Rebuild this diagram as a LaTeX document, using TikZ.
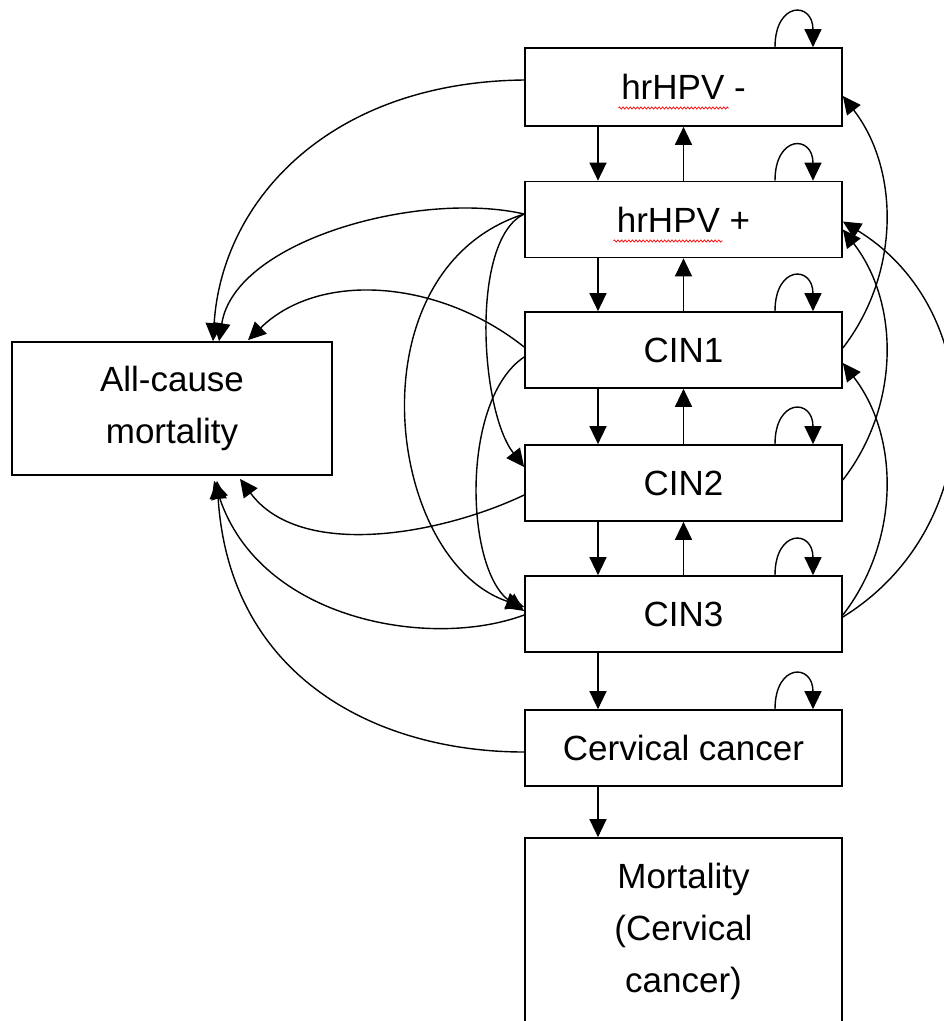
\documentclass[tikz,border=0pt]{standalone}
\usepackage{fontspec}
\setmainfont{Liberation Sans}
\usetikzlibrary{arrows.meta,decorations.pathmorphing}
\begin{document}
\begin{tikzpicture}[x=1pt,y=-1pt,
  box/.style={draw, line width=1.7pt, minimum width=317pt, minimum height=76pt, inner sep=0pt,
    font=\fontsize{35pt}{52pt}\selectfont, align=center},
  arr/.style={-{Triangle[length=18pt,width=17pt]}, line width=1.4pt},
  squig/.style={red, line width=0.7pt, decorate, decoration={zigzag, segment length=3.6pt, amplitude=1.1pt}}]
\fill[white] (0,0) rectangle (944,1021);
\useasboundingbox (0,0) rectangle (944,1021);

% nodes
\node[box, minimum height=78pt] (hpvneg) at (683.5,87) {hrHPV -};
\node[box] (hpvpos) at (683.5,219.5) {hrHPV +};
\node[box] (cin1) at (683.5,350) {CIN1};
\node[box] (cin2) at (683.5,483) {CIN2};
\node[box] (cin3) at (683.5,614) {CIN3};
\node[box] (cc) at (683.5,748) {Cervical cancer};
\node[box, minimum height=186pt] (mort) at (683.5,931) {Mortality\\(Cervical\\cancer)};
\node[box, minimum width=320pt, minimum height=133pt] (allc) at (172,408.5) {All-cause\\mortality};

% spell-check underlines
\draw[squig] ([xshift=-65pt,yshift=-21pt]hpvneg.center) -- ([xshift=45pt,yshift=-21pt]hpvneg.center);
\draw[squig] ([xshift=-70pt,yshift=-21.5pt]hpvpos.center) -- ([xshift=39pt,yshift=-21.5pt]hpvpos.center);

% vertical arrows
\coordinate (dx) at (598,0);
\draw[arr] (hpvneg.south -| dx) -- (hpvpos.north -| dx);
\draw[arr] (hpvpos.north) -- (hpvneg.south);
\draw[arr] (hpvpos.south -| dx) -- (cin1.north -| dx);
\draw[arr] (cin1.north) -- (hpvpos.south);
\draw[arr] (cin1.south -| dx) -- (cin2.north -| dx);
\draw[arr] (cin2.north) -- (cin1.south);
\draw[arr] (cin2.south -| dx) -- (cin3.north -| dx);
\draw[arr] (cin3.north) -- (cin2.south);
\draw[arr] (cin3.south -| dx) -- (cc.north -| dx);
\draw[arr] (cc.south -| dx) -- (mort.north -| dx);

% self loops
\foreach \n in {hpvneg,hpvpos,cin1,cin2,cin3,cc}{
  \draw[arr] ([xshift=91.5pt]\n.north) .. controls +(0,-46) and +(0,-46) .. ([xshift=129.5pt]\n.north);
}

% left curves to all-cause mortality
\draw[arr] ([yshift=7pt]hpvneg.west) .. controls (330,82) and (222,200) .. ([xshift=41pt]allc.north);
\draw[arr] ([yshift=5.5pt]hpvpos.west) .. controls (420,190) and (235,240) .. ([xshift=47pt]allc.north);
\draw[arr] ([yshift=3pt]cin1.west) .. controls (440,280) and (320,270) .. ([xshift=76pt,yshift=1pt]allc.north);
\draw[arr] ([yshift=-12pt]cin2.west) .. controls (440,535) and (300,560) .. ([xshift=68pt,yshift=-3pt]allc.south);
\draw[arr] ([yshift=-1pt]cin3.west) .. controls (430,650) and (260,620) .. ([xshift=42pt,yshift=-5pt]allc.south);
\draw[arr] ([yshift=-4pt]cc.west) .. controls (380,752) and (230,680) .. ([xshift=45pt,yshift=-5pt]allc.south);

% left curves between states
\draw[arr] ([yshift=5.5pt]hpvpos.west) .. controls (350,270) and (385,560) .. ([yshift=7pt]cin3.west);
\draw[arr] ([yshift=5.5pt]hpvpos.west) .. controls (470,240) and (480,410) .. ([yshift=16pt]cin2.west);
\draw[arr] ([yshift=-7pt]cin1.west) .. controls (460,400) and (465,570) .. ([yshift=3pt]cin3.west);

% right curves
\draw[arr] ([yshift=2pt]cin1.east) .. controls (900,274) and (900,170) .. ([yshift=-9pt]hpvneg.east);
\draw[arr] ([yshift=3pt]cin2.east) .. controls (900,406) and (900,303.5) .. ([yshift=-10pt]hpvpos.east);
\draw[arr] ([yshift=-1pt]cin3.east) .. controls (900,541) and (900,437) .. ([yshift=-13pt]cin1.east);
\draw[arr] ([yshift=-3pt]cin3.east) .. controls (990,526) and (990,312) .. ([yshift=-2pt]hpvpos.east);
\end{tikzpicture}
\end{document}
